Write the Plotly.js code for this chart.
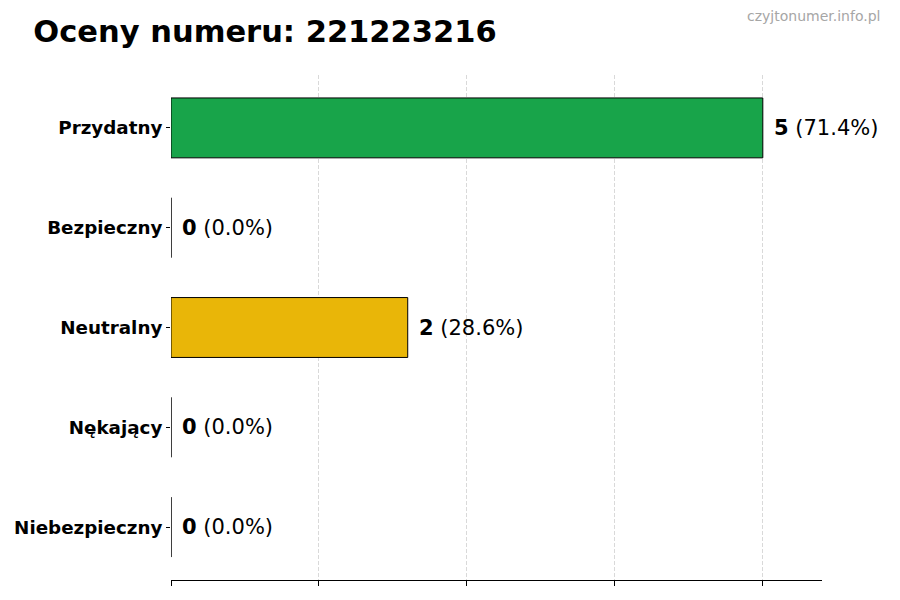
<!DOCTYPE html>
<html>
<head>
<meta charset="utf-8">
<script src="https://cdn.plot.ly/plotly-3.0.1.min.js"></script>
<style>
  body { margin: 0; background: #fff; }
  #chart { width: 900px; height: 600px; }
</style>
</head>
<body>
<div id="chart"></div>
<script>
// data
const categories = ['Przydatny', 'Bezpieczny', 'Neutralny', 'Nękający', 'Niebezpieczny'];
const counts = [5, 0, 2, 0, 0];
const bar_colors = ['#18a44a', '#2e8b57', '#e9b608', '#e67e22', '#d62728'];
const x_ticks = [0, 1.25, 2.5, 3.75, 5];

const total = counts.reduce((a, b) => a + b, 0);

const bars = {
    type: 'bar',
    orientation: 'h',
    y: categories,
    x: counts,
    width: 0.6,
    marker: {
        color: bar_colors,
        line: { color: '#000000', width: 1 }
    },
    hoverinfo: 'skip'
};

// black edge at the base of each bar (zero bars are not drawn by plotly)
const bar_edges = {
    type: 'scatter',
    mode: 'markers',
    y: categories,
    x: counts.map(() => 0),
    marker: { size: 0.1, color: 'rgba(0,0,0,0)' },
    error_y: { type: 'constant', value: 0.3, width: 0, color: '#000000', thickness: 1 },
    hoverinfo: 'skip'
};

// value labels next to each bar
const labels = [];
for (let i = 0; i < categories.length; i++) {
    const pct = (counts[i] / total * 100).toFixed(1);
    labels.push({
        x: counts[i],
        y: categories[i],
        xref: 'x',
        yref: 'y',
        text: '<b>' + counts[i] + '</b> (' + pct + '%)',
        showarrow: false,
        xanchor: 'left',
        yanchor: 'middle',
        xshift: 9,
        font: { family: 'DejaVu Sans', size: 21, color: '#000000' }
    });
}

labels.push({
    xref: 'paper',
    yref: 'paper',
    x: 1.092,
    y: 1.116,
    xanchor: 'right',
    yanchor: 'middle',
    text: 'czyjtonumer.info.pl',
    showarrow: false,
    font: { family: 'DejaVu Sans', size: 14, color: '#a6a6a6' }
});

const layout = {
    width: 900,
    height: 600,
    margin: { l: 171, r: 78, t: 75, b: 20 },
    paper_bgcolor: '#ffffff',
    plot_bgcolor: '#ffffff',
    showlegend: false,
    font: { family: 'DejaVu Sans', color: '#000000' },
    title: {
        text: '<b>Oceny numeru: 221223216</b>',
        xref: 'container',
        yref: 'container',
        x: 0.037,
        xanchor: 'left',
        y: 0.948,
        yanchor: 'middle',
        font: { family: 'DejaVu Sans', size: 30.5, color: '#000000' }
    },
    xaxis: {
        range: [0, 5.5],
        tickvals: x_ticks,
        showticklabels: false,
        ticks: 'outside',
        ticklen: 5,
        tickcolor: '#000000',
        showline: true,
        linecolor: '#000000',
        linewidth: 1,
        showgrid: true,
        gridcolor: '#cfcfcf',
        griddash: '4px,2px',
        gridwidth: 0.8,
        zeroline: false,
        fixedrange: true
    },
    yaxis: {
        type: 'category',
        categoryorder: 'array',
        categoryarray: categories,
        range: [4.53, -0.53],
        ticks: 'outside',
        ticklen: 4,
        tickcolor: '#000000',
        showline: false,
        showgrid: false,
        zeroline: false,
        tickfont: { family: 'DejaVu Sans', size: 18.3, weight: 'bold', color: '#000000' },
        fixedrange: true
    },
    annotations: labels
};

Plotly.newPlot('chart', [bars, bar_edges], layout, { displayModeBar: false, staticPlot: true });
</script>
</body>
</html>
